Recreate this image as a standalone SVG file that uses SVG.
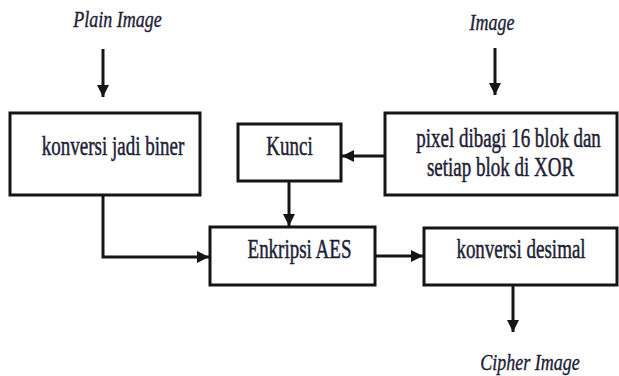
<svg xmlns="http://www.w3.org/2000/svg" width="619" height="376" viewBox="0 0 619 376">
<style>
.box{fill:#fff;stroke:#151515;stroke-width:3}
.lbl{font-family:"Liberation Serif","Times New Roman",serif;font-size:19px;fill:#1e2235;stroke:#1e2235;stroke-width:0.35;text-anchor:middle}
.it{font-family:"Liberation Serif","Times New Roman",serif;font-size:18px;font-style:italic;fill:#1e2235;stroke:#1e2235;stroke-width:0.3;text-anchor:middle}
.con{fill:none;stroke:#151515;stroke-width:3}
</style>
<defs>
<marker id="ah" viewBox="0 0 10 10" refX="10" refY="5" markerWidth="4" markerHeight="4" markerUnits="strokeWidth" orient="auto">
<path d="M0,0 L10,5 L0,10 z" fill="#151515"/>
</marker>
</defs>
<rect width="619" height="376" fill="#fff"/>
<text class="it" transform="translate(117.5,27) scale(1,1.25)">Plain Image</text>
<text class="it" transform="translate(492,30) scale(1,1.25)">Image</text>
<text class="it" transform="translate(530,370) scale(1,1.25)">Cipher Image</text>
<g id="connectors">
<path class="con" d="M103,49 V97" marker-end="url(#ah)"/>
<path class="con" d="M495,48 V95" marker-end="url(#ah)"/>
<path class="con" d="M385,156 H342" marker-end="url(#ah)"/>
<path class="con" d="M289,181 V226" marker-end="url(#ah)"/>
<path class="con" d="M103,195 V257 H209" marker-end="url(#ah)"/>
<path class="con" d="M375,256 H423" marker-end="url(#ah)"/>
<path class="con" d="M513,285 V332" marker-end="url(#ah)"/>
</g>
<g id="konversi-biner">
<rect class="box" x="10" y="113" width="190" height="82"/>
<text class="lbl" transform="translate(113,155) scale(1,1.45)">konversi jadi biner</text>
</g>
<g id="kunci">
<rect class="box" x="238" y="124" width="103" height="57"/>
<text class="lbl" transform="translate(289.5,155) scale(1,1.45)">Kunci</text>
</g>
<g id="pixel">
<rect class="box" x="385" y="113" width="232" height="82"/>
<text class="lbl" transform="translate(508.5,147) scale(1,1.45)">pixel dibagi 16 blok dan</text>
<text class="lbl" transform="translate(500.5,176) scale(1,1.45)">setiap blok di XOR</text>
</g>
<g id="enkripsi">
<rect class="box" x="210" y="227" width="165" height="58"/>
<text class="lbl" transform="translate(299.5,258) scale(1,1.45)">Enkripsi AES</text>
</g>
<g id="konversi-desimal">
<rect class="box" x="424" y="228" width="193" height="57"/>
<text class="lbl" transform="translate(521,258) scale(1,1.45)">konversi desimal</text>
</g>
</svg>
